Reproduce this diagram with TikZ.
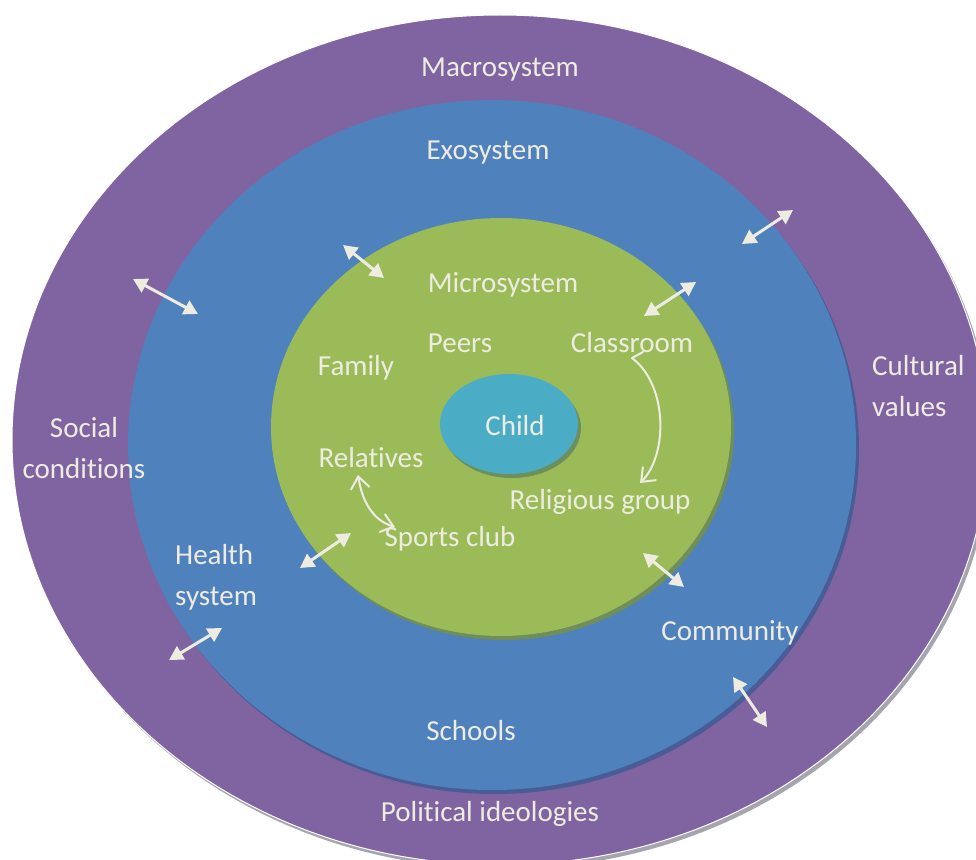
\documentclass[tikz,border=0pt]{standalone}
\usepackage{fontspec}
\setmainfont{Carlito}[Ligatures=NoCommon]
\usetikzlibrary{arrows.meta}

\definecolor{macrocol}{HTML}{8064A2}
\definecolor{exocol}{HTML}{4F81BD}
\definecolor{microcol}{HTML}{9BBB59}
\definecolor{childcol}{HTML}{4BACC6}
\definecolor{labelcol}{HTML}{EEECE1}
\definecolor{greyshad}{HTML}{A6A4AE}
\definecolor{exoshad}{HTML}{4A5C96}
\definecolor{microshad}{HTML}{6F8E5A}
\definecolor{childshad}{HTML}{6C8F5C}

\begin{document}
\begin{tikzpicture}[x=1pt, y=-1pt]
    \tikzstyle{lbl}=[text=labelcol, inner sep=0pt, font=\fontsize{29}{41}\selectfont]
    \tikzstyle{barrs}=[draw=labelcol, line width=3pt, {Triangle[length=14pt,width=15pt]}-{Triangle[length=14pt,width=15pt]}]
    \tikzstyle{carrs}=[draw=labelcol, line width=2pt, line cap=round, line join=round]

    \useasboundingbox (0,0) rectangle (976,859);

    % rings, each with its shadow
    \fill[greyshad] (503,444) ellipse (488pt and 425pt);
    \fill[macrocol, draw=white, line width=1pt] (500,440) ellipse (488pt and 425pt);
    \fill[exoshad] (495,449) ellipse (364pt and 345pt);
    \fill[exocol] (492,445) ellipse (364pt and 345pt);
    \fill[microshad] (504,431) ellipse (230pt and 209pt);
    \fill[microcol] (501,427) ellipse (230pt and 209pt);
    \fill[childshad] (512,428) ellipse (69pt and 50pt);
    \fill[childcol] (509,424) ellipse (69pt and 50pt);

    % labels
    \node[lbl, anchor=base] (macro) at (500,76) {Macrosystem};
    \node[lbl, anchor=base] (exo) at (488,159) {Exosystem};
    \node[lbl, anchor=base] (micro) at (503,292) {Microsystem};
    \node[lbl, anchor=base] (peers) at (460,352) {Peers};
    \node[lbl, anchor=base] (family) at (356,375) {Family};
    \node[lbl, anchor=base] (classroom) at (632,352) {Classroom};
    \node[lbl, anchor=base] (child) at (515,435) {Child};
    \node[lbl, anchor=base] (relatives) at (371,467) {Relatives};
    \node[lbl, anchor=base] (religious) at (600,509) {Religious group};
    \node[lbl, anchor=base] (sports) at (450,546) {Sports club};
    \node[lbl, anchor=base west, align=left] (cultural) at (872,416) {Cultural\\values};
    \node[lbl, anchor=base, align=center] (social) at (84,478) {Social\\conditions};
    \node[lbl, anchor=base west, align=left] (health) at (175,605) {Health\\system};
    \node[lbl, anchor=base] (community) at (730,640) {Community};
    \node[lbl, anchor=base] (schools) at (471,740) {Schools};
    \node[lbl, anchor=base] (political) at (490,821) {Political ideologies};

    % two-way links across the rings
    \foreach \n/\xa/\ya/\xb/\yb in {1/133/279/198/314, 2/343/245/384/278, 3/742/244/793/210, 4/644/316/696/282,
                                   5/300/568/351/533, 6/169/660/222/628, 7/643/553/684/587, 8/733/677/767/727} {
        \coordinate (s\n) at (\xa,\ya);
        \coordinate (e\n) at (\xb,\yb);
        \draw[barrs] (s\n) -- (e\n);
    }

    % curved links inside the microsystem
    \coordinate (relTip) at (358,475);
    \coordinate (sptTip) at (395,527);
    \draw[carrs, {Straight Barb[length=12pt,width=19pt]}-{Straight Barb[length=12pt,width=19pt]}]
        (relTip) .. controls (362,500) and (372,520) .. (sptTip);

    \coordinate (clsHook) at (643,352);
    \coordinate (clsTip) at (632,358);
    \coordinate (relgTip) at (640,483);
    \draw[carrs, -{Straight Barb[length=12pt,width=19pt]}]
        (clsHook) -- (clsTip) .. controls (668,385) and (668,455) .. (relgTip);

\end{tikzpicture}
\end{document}
